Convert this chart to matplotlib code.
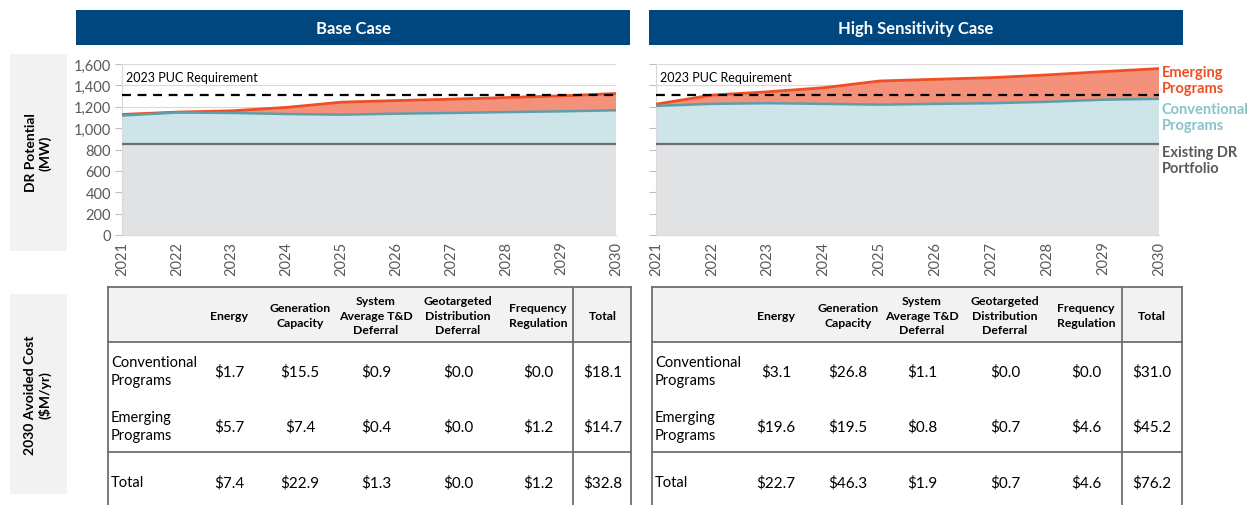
import matplotlib
matplotlib.use("Agg")
import matplotlib.pyplot as plt
from matplotlib.patches import Rectangle

plt.rcParams['font.family'] = ['Lato', 'DejaVu Sans']

# ---------------- data ----------------
years = [2021, 2022, 2023, 2024, 2025, 2026, 2027, 2028, 2029, 2030]
puc_requirement = 1310

base_existing = [848, 848, 848, 848, 848, 848, 848, 848, 848, 848]
base_conventional = [270, 298, 294, 284, 278, 287, 294, 302, 309, 319]
base_emerging = [10, 4, 20, 62, 117, 123, 129, 136, 145, 157]

high_existing = [850, 850, 850, 850, 850, 850, 850, 850, 850, 850]
high_conventional = [358, 377, 383, 377, 370, 377, 383, 396, 416, 424]
high_emerging = [16, 82, 107, 151, 221, 230, 239, 252, 263, 283]

yticks = [0, 200, 400, 600, 800, 1000, 1200, 1400, 1600]

case_titles = ["Base Case", "High Sensitivity Case"]
series_labels = ["Emerging\nPrograms", "Conventional\nPrograms", "Existing DR\nPortfolio"]

table_columns = ["Energy", "Generation\nCapacity", "System\nAverage T&D\nDeferral",
                 "Geotargeted\nDistribution\nDeferral", "Frequency\nRegulation", "Total"]
table_rows = ["Conventional\nPrograms", "Emerging\nPrograms", "Total"]
base_table = [["$1.7", "$15.5", "$0.9", "$0.0", "$0.0", "$18.1"],
              ["$5.7", "$7.4", "$0.4", "$0.0", "$1.2", "$14.7"],
              ["$7.4", "$22.9", "$1.3", "$0.0", "$1.2", "$32.8"]]
high_table = [["$3.1", "$26.8", "$1.1", "$0.0", "$0.0", "$31.0"],
              ["$19.6", "$19.5", "$0.8", "$0.7", "$4.6", "$45.2"],
              ["$22.7", "$46.3", "$1.9", "$0.7", "$4.6", "$76.2"]]

# ---------------- styling ----------------
W, H = 1250, 506
C_EXIST_F, C_EXIST_L = "#E1E2E4", "#6B6D70"
C_CONV_F, C_CONV_L = "#CDE4E8", "#5E9EAA"
C_EMER_F, C_EMER_L = "#F4917B", "#F04E23"
BANNER = "#00467F"
GRAY_TXT = "#595959"
LINE = "#6F6F6F"

fig = plt.figure(figsize=(W / 100, H / 100), dpi=100)
bg = fig.add_axes([0, 0, 1, 1], zorder=0)
bg.set_xlim(0, W)
bg.set_ylim(H, 0)
bg.axis("off")

def fig_rect(x0, y0, x1, y1):
    return [x0 / W, 1 - y1 / H, (x1 - x0) / W, (y1 - y0) / H]

# banners
banners = [(76, 630), (649, 1183)]
for (x0, x1), title in zip(banners, case_titles):
    bg.add_patch(Rectangle((x0, 11), x1 - x0, 35, color=BANNER, lw=0))
    bg.text((x0 + x1) / 2, 28.5, title, color="white", fontsize=12, fontweight="bold",
            ha="center", va="center")

# side label boxes
bg.add_patch(Rectangle((10, 55), 57, 197, color="#F2F2F2", lw=0))
bg.text(38, 153, "DR Potential\n(MW)", rotation=90, ha="center", va="center",
        fontsize=10, fontweight="bold", linespacing=1.2)
bg.add_patch(Rectangle((10, 295), 57, 200, color="#F2F2F2", lw=0))
bg.text(38, 395, "2030 Avoided Cost\n($M/yr)", rotation=90, ha="center", va="center",
        fontsize=10, fontweight="bold", linespacing=1.2)

# ---------------- charts ----------------
chart_boxes = [(122, 616), (656, 1159)]
datasets = [(base_existing, base_conventional, base_emerging),
            (high_existing, high_conventional, high_emerging)]

for i, ((x0, x1), (ex, cv, em)) in enumerate(zip(chart_boxes, datasets)):
    ax = fig.add_axes(fig_rect(x0, 65, x1, 236), zorder=2)
    ax.set_facecolor("none")
    ax.stackplot(years, ex, cv, em, colors=[C_EXIST_F, C_CONV_F, C_EMER_F], lw=0, zorder=2)
    lvl1 = [a for a in ex]
    lvl2 = [a + b for a, b in zip(ex, cv)]
    lvl3 = [a + b + c for a, b, c in zip(ex, cv, em)]
    ax.plot(years, lvl3, color=C_EMER_L, lw=2.0, zorder=3, solid_capstyle="butt")
    ax.plot(years, lvl2, color=C_CONV_L, lw=1.8, zorder=3, solid_capstyle="butt")
    ax.plot(years, lvl1, color=C_EXIST_L, lw=1.6, zorder=3, solid_capstyle="butt")
    ax.axhline(puc_requirement, color="black", lw=1.6, ls=(0, (4, 3)), zorder=4)
    ax.text(years[0] + 0.08, 1480, "2023 PUC Requirement", fontsize=9, ha="left",
            va="center", color="black", zorder=5)
    ax.set_xlim(years[0], years[-1])
    ax.set_ylim(0, 1600)
    ax.set_yticks(yticks)
    ax.grid(axis="y", color="#D9D9D9", lw=0.8, zorder=0)
    ax.set_axisbelow(True)
    ax.set_xticks(years)
    ax.set_xticklabels([str(y) for y in years], rotation=90, fontsize=10.5, color=GRAY_TXT)
    ax.tick_params(axis="x", length=0, pad=4)
    ax.tick_params(axis="y", length=5, color="#BFBFBF", width=0.8, pad=3)
    if i == 0:
        ax.set_yticklabels([f"{v:,}" for v in yticks], fontsize=10.5, color=GRAY_TXT)
    else:
        ax.set_yticklabels([])
    for s in ["top", "right"]:
        ax.spines[s].set_visible(False)
    for s in ["left", "bottom"]:
        ax.spines[s].set_color("#D9D9D9")
        ax.spines[s].set_linewidth(0.8)

# legend labels (right side)
legend_colors = [C_EMER_L, "#86C3CB", GRAY_TXT]
legend_y = [81, 118, 161]
for lab, col, yy in zip(series_labels, legend_colors, legend_y):
    bg.text(1162, yy, lab, color=col, fontsize=10.5, fontweight="bold", ha="left",
            va="center", linespacing=1.25, zorder=5)

# ---------------- tables ----------------
tables = [
    dict(x0=108, sep=573, x1=631, cols=[229, 300, 376, 458, 538, 603], data=base_table),
    dict(x0=652, sep=1122, x1=1182, cols=[776, 848, 922, 1005, 1086, 1152], data=high_table),
]
y_top, y_head, y_total, y_bot = 288, 343, 453, 506
row_y = [372, 427, 483]
for t in tables:
    bg.add_patch(Rectangle((t["x0"], y_top), t["x1"] - t["x0"], y_head - y_top,
                           facecolor="#F2F2F2", lw=0, zorder=1))
    lw = 1.3
    bg.plot([t["x0"], t["x1"]], [y_top, y_top], color=LINE, lw=lw, zorder=3)
    bg.plot([t["x0"], t["x1"]], [y_head, y_head], color=LINE, lw=lw, zorder=3)
    bg.plot([t["x0"], t["x1"]], [y_total, y_total], color=LINE, lw=lw, zorder=3)
    for xx in (t["x0"], t["sep"], t["x1"]):
        bg.plot([xx, xx], [y_top, y_bot], color=LINE, lw=lw, zorder=3)
    for cx, name in zip(t["cols"], table_columns):
        bg.text(cx, 316, name, fontsize=8.8, fontweight="bold", ha="center", va="center",
                linespacing=1.35, zorder=4)
    for ry, rname, vals in zip(row_y, table_rows, t["data"]):
        bg.text(t["x0"] + 3, ry, rname, fontsize=10.5, ha="left", va="center",
                linespacing=1.45, zorder=4)
        for cx, v in zip(t["cols"], vals):
            bg.text(cx, ry, v, fontsize=11, ha="center", va="center", zorder=4)

fig.savefig("out.png", dpi=100)
